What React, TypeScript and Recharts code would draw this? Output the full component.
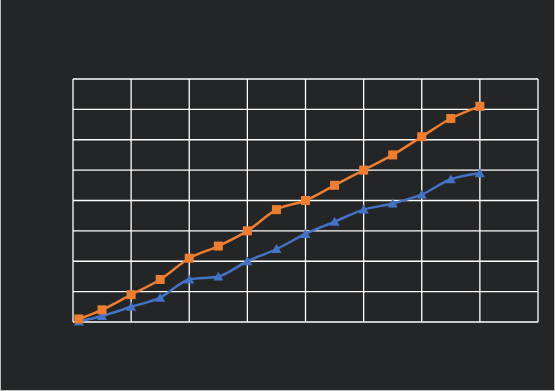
import React from 'react'
import { LineChart, Line, XAxis, YAxis, CartesianGrid } from 'recharts'

const xs = [1, 5, 10, 15, 20, 25, 30, 35, 40, 45, 50, 55, 60, 65, 70]
const orange = [1, 4, 9, 14, 21, 25, 30, 37, 40, 45, 50, 55, 61, 67, 71]
const blue = [0.2, 2, 5, 8, 14, 15, 20, 24, 29, 33, 37, 39, 42, 47, 49]
const ticks = [0, 10, 20, 30, 40, 50, 60, 70, 80]

const data = xs.map((x, i) => ({ x, a: blue[i], b: orange[i] }))

const Square = (props: any) => {
  const { cx, cy, index } = props
  if (cx == null || cy == null) return null
  return <rect key={index} x={cx - 4.5} y={cy - 4.5} width={9} height={9} fill="#ED7D31" />
}

const Triangle = (props: any) => {
  const { cx, cy, index } = props
  if (cx == null || cy == null) return null
  return (
    <polygon
      key={index}
      points={`${cx},${cy - 5} ${cx + 5},${cy + 4} ${cx - 5},${cy + 4}`}
      fill="#4472C4"
    />
  )
}

const App = () => {
  return (
    <div
      style={{
        position: 'absolute',
        top: 0,
        left: 0,
        width: 555,
        height: 391,
        boxSizing: 'border-box',
        background: '#242526',
        borderLeft: '1px solid #bdbdbd',
        borderRight: '1px solid #bdbdbd',
        borderBottom: '1px solid #bdbdbd',
      }}
    >
      <div style={{ position: 'absolute', top: 0, left: -1 }}>
        <LineChart
          width={555}
          height={391}
          data={data}
          margin={{ top: 79, right: 17, bottom: 69, left: 73 }}
        >
          <CartesianGrid
            stroke="#ffffff"
            strokeWidth={1.3}
            verticalValues={ticks}
            horizontalValues={ticks}
          />
          <XAxis dataKey="x" type="number" domain={[0, 80]} ticks={ticks} hide />
          <YAxis type="number" domain={[0, 80]} ticks={ticks} hide />
          <Line
            dataKey="a"
            type="monotone"
            stroke="#4472C4"
            strokeWidth={2.5}
            dot={<Triangle />}
            activeDot={false}
            isAnimationActive={false}
          />
          <Line
            dataKey="b"
            type="monotone"
            stroke="#ED7D31"
            strokeWidth={2.5}
            dot={<Square />}
            activeDot={false}
            isAnimationActive={false}
          />
        </LineChart>
      </div>
    </div>
  )
}

export default App
